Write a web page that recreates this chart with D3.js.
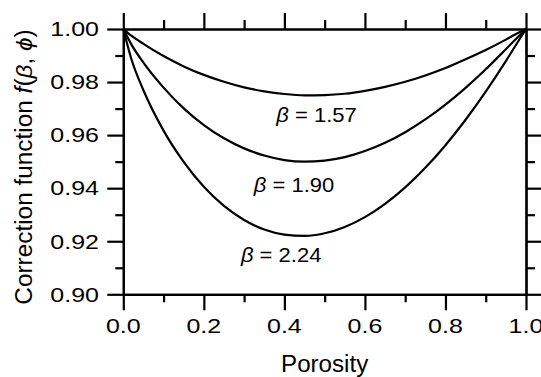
<!DOCTYPE html>
<html><head><meta charset="utf-8">
<script src="https://cdn.jsdelivr.net/npm/d3@7/dist/d3.min.js"></script>
<style>body{margin:0;background:#fff} svg{display:block}</style>
</head><body><svg id="c" width="541" height="377"></svg>
<script>
// ---- data ----
const porosity = [0, 0.02, 0.05, 0.10, 0.15, 0.20, 0.25, 0.30, 0.35, 0.40, 0.45, 0.50, 0.55, 0.60, 0.65, 0.70, 0.75, 0.80, 0.85, 0.90, 0.95, 0.98, 1.00];
const f157 = [1, 0.9975, 0.9944, 0.9898, 0.9859, 0.9827, 0.9801, 0.9780, 0.9765, 0.9755, 0.9750, 0.9751, 0.9756, 0.9767, 0.9782, 0.9801, 0.9825, 0.9853, 0.9886, 0.9921, 0.9960, 0.9985, 1];
const f190 = [1, 0.9942, 0.9873, 0.9779, 0.9701, 0.9638, 0.9588, 0.9550, 0.9523, 0.9506, 0.9500, 0.9504, 0.9517, 0.9540, 0.9571, 0.9611, 0.9659, 0.9715, 0.9778, 0.9848, 0.9924, 0.9970, 1];
const f224 = [1, 0.9887, 0.9769, 0.9617, 0.9499, 0.9405, 0.9333, 0.9280, 0.9244, 0.9225, 0.9220, 0.9230, 0.9254, 0.9291, 0.9341, 0.9403, 0.9477, 0.9562, 0.9658, 0.9764, 0.9879, 0.9952, 1];
const betaValues = ["1.57", "1.90", "2.24"];
const labelAnchorX = [0.480, 0.424, 0.392];
const labelAnchorY = [0.9651, 0.9387, 0.9123];
const xTicks = [0, 0.2, 0.4, 0.6, 0.8, 1.0];
const xTickLabels = ["0.0", "0.2", "0.4", "0.6", "0.8", "1.0"];
const xMinor = [0.1, 0.3, 0.5, 0.7, 0.9];
const yTicks = [0.90, 0.92, 0.94, 0.96, 0.98, 1.00];
const yTickLabels = ["0.90", "0.92", "0.94", "0.96", "0.98", "1.00"];
const yMinor = [0.91, 0.93, 0.95, 0.97, 0.99];
const xTitle = "Porosity";
const yTitle = "Correction function ";

// ---- layout ----
const L = 123.3, R = 526, T = 29, B = 294.3;
const FONT = "'Liberation Sans', Arial, Helvetica, sans-serif";
const SW = 2.2;
const svg = d3.select("#c");
const x = d3.scaleLinear().domain([0, 1]).range([L, R]);
const y = d3.scaleLinear().domain([0.9, 1.0]).range([B, T]);

function axis(gen, tr, vals, size) {
  const g = svg.append("g").attr("transform", tr)
    .call(gen.tickValues(vals).tickSize(size).tickSizeOuter(0).tickFormat(""));
  g.selectAll("line").attr("stroke", "#000").attr("stroke-width", SW);
  g.select(".domain").attr("stroke", "#000").attr("stroke-width", SW);
  g.selectAll("text").remove();
  return g;
}
axis(d3.axisBottom(x), `translate(0,${B})`, xTicks, 16);
axis(d3.axisBottom(x), `translate(0,${B})`, xMinor, 8);
axis(d3.axisTop(x), `translate(0,${T})`, xTicks, 16);
axis(d3.axisTop(x), `translate(0,${T})`, xMinor, 9);
axis(d3.axisLeft(y), `translate(${L},0)`, yTicks, 16);
axis(d3.axisLeft(y), `translate(${L},0)`, yMinor, 8);
axis(d3.axisRight(y), `translate(${R},0)`, yTicks, 16);
axis(d3.axisRight(y), `translate(${R},0)`, yMinor, 9);

// tick labels
const SX = 1.22;
svg.append("g").selectAll("g").data(xTicks).join("g")
  .attr("transform", d => `translate(${x(d)},${B + 39}) scale(${SX},1)`)
  .append("text").attr("text-anchor", "middle")
  .attr("font-family", FONT).attr("font-size", 20.5)
  .text((d, i) => xTickLabels[i]);
svg.append("g").selectAll("g").data(yTicks).join("g")
  .attr("transform", d => `translate(99,${y(d) + 7.3}) scale(${SX},1)`)
  .append("text").attr("text-anchor", "end")
  .attr("font-family", FONT).attr("font-size", 20.5)
  .text((d, i) => yTickLabels[i]);

// curves
const line = d3.line().x((d, i) => x(porosity[i])).y(d => y(d)).curve(d3.curveMonotoneX);
[f157, f190, f224].forEach(s => {
  svg.append("path").attr("d", line(s)).attr("fill", "none")
    .attr("stroke", "#000").attr("stroke-width", SW);
});

// beta labels
betaValues.forEach((v, i) => {
  const t = svg.append("g")
    .attr("transform", `translate(${x(labelAnchorX[i])},${y(labelAnchorY[i])}) scale(1.1,1)`)
    .append("text").attr("text-anchor", "middle")
    .attr("font-family", FONT).attr("font-size", 20);
  t.append("tspan").attr("font-style", "italic").text("β");
  t.append("tspan").text(" = " + v);
});

// axis titles
svg.append("g").attr("transform", `translate(${(L + R) / 2},371.5) scale(1.05,1)`)
  .append("text").attr("text-anchor", "middle")
  .attr("font-family", FONT).attr("font-size", 23).text(xTitle);
const yt = svg.append("g").attr("transform", `translate(31.5,167) rotate(-90) scale(1.06,1)`)
  .append("text").attr("text-anchor", "middle")
  .attr("font-family", FONT).attr("font-size", 23);
yt.append("tspan").text(yTitle);
yt.append("tspan").attr("font-style", "italic").text("f");
yt.append("tspan").text("(");
yt.append("tspan").attr("font-style", "italic").text("β");
yt.append("tspan").text(", ");
yt.append("tspan").attr("font-style", "italic").text("ϕ");
yt.append("tspan").text(")");
</script></body></html>
